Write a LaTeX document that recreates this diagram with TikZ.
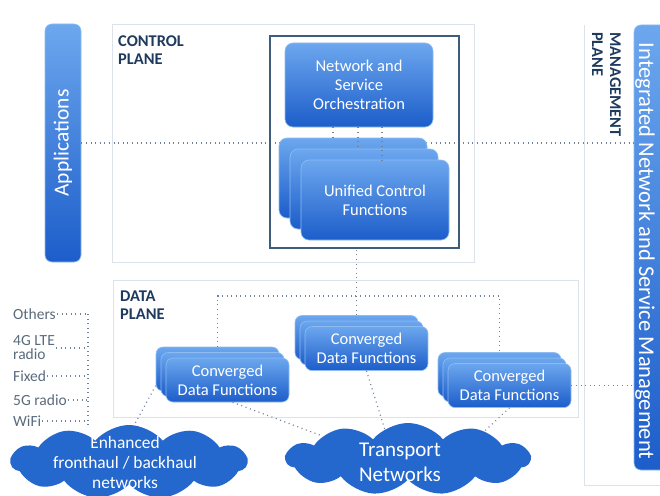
\documentclass[tikz,border=0pt]{standalone}
\usepackage{fontspec}
\setmainfont{Carlito}
\usetikzlibrary{shapes.symbols}

\definecolor{boxtop}{HTML}{6CA7EE}
\definecolor{boxbot}{HTML}{1C5DCA}
\definecolor{boxedge}{HTML}{8EBCF2}
\definecolor{cloudblue}{HTML}{2468CE}
\definecolor{planeline}{HTML}{DCE2EA}
\definecolor{framecol}{HTML}{3E5C7C}
\definecolor{navy}{HTML}{1F3A5F}
\definecolor{dotcol}{HTML}{6F8296}
\definecolor{listcol}{HTML}{5B6B7E}

\tikzset{
  bluebox/.style={rounded corners=8pt, top color=boxtop, bottom color=boxbot,
    draw=boxedge, line width=.6pt, text=white, align=center,
    font=\fontsize{16.5}{19}\selectfont, inner sep=0pt},
  plane/.style={draw=planeline, line width=.8pt},
  planelabel/.style={text=navy, font=\bfseries\fontsize{16.4}{18}\selectfont,
    align=left, inner sep=0pt},
  link/.style={draw=dotcol, line width=1.2pt, dash pattern=on 1pt off 3.6pt},
  netcloud/.style={cloud, cloud puffs=11, cloud puff arc=100, fill=cloudblue,
    draw=none, inner sep=0pt},
  cloudtext/.style={text=white, align=center, inner sep=0pt},
  access/.style={text=listcol, anchor=west, inner sep=1pt, align=left,
    font=\fontsize{15.5}{14}\selectfont},
}

\begin{document}
\begin{tikzpicture}[x=1pt,y=-1pt]
	\useasboundingbox (0,0) rectangle (660,495);
	\fill[white] (0,0) rectangle (660,495);
	%=========== planes ===========================
	\draw[plane] (112,24) rectangle (474,262);
	\draw[plane] (113,280) rectangle (578,417);
	\draw[plane] (584,25) -- (584,485) -- (662,485);
	\node[planelabel, anchor=north west] (ctrllbl) at (118,36) {CONTROL\\PLANE};
	\node[planelabel, anchor=north west] (datalbl) at (120,291) {DATA\\PLANE};
	\node[planelabel, anchor=north west, rotate=-90] (mgmtlbl) at (621,32) {MANAGEMENT\\PLANE};
	%=========== side bars ===========================
	\node[bluebox, rounded corners=7pt, minimum width=36, minimum height=238] (apps) at (63,143) {};
	\node[rotate=90, text=white, font=\fontsize{21.5}{24}\selectfont] (appstxt) at (apps.center) {Applications};
	\node[bluebox, rounded corners=7pt, minimum width=34, minimum height=445] (integ) at (651,247.5) {};
	\node[rotate=-90, text=white, font=\fontsize{22.5}{24}\selectfont] (integtxt) at (645,251) {Integrated Network and Service Management};
	\draw[link] (apps.east) -- (apps.east -| integ.west);
	%=========== control plane ===========================
	\node[draw=framecol, line width=1.5pt, minimum width=189, minimum height=212] (orchframe) at (364.5,142) {};
	\node[bluebox, minimum width=148, minimum height=84] (orch) at (359,85) {Network and\\Service\\Orchestration};
	\foreach \i/\d in {1/-22, 2/-11}
		\node[bluebox, minimum width=148, minimum height=80] (ucf\i) at (375+\d,200+\d) {};
	\node[bluebox, minimum width=148, minimum height=80] (ucf) at (375,200) {Unified Control\\Functions};
	\foreach \l/\a/\b in {ucf1/-26/-20, ucf2/-1/-6, ucf/23/7}
		\draw[link] ([xshift=\a]orch.south) -- ([xshift=\b]\l.north);
	%=========== data plane ===========================
	\foreach \n/\x/\y in {cdfa/227.5/380, cdfb/366.5/348.5, cdfc/509.5/385.5}{
		\node[bluebox, rounded corners=7pt, minimum width=123, minimum height=44] (\n1) at (\x-10,\y-11) {};
		\node[bluebox, rounded corners=7pt, minimum width=123, minimum height=44] (\n2) at (\x-5,\y-5.5) {};
		\node[bluebox, rounded corners=7pt, minimum width=123, minimum height=44] (\n) at (\x,\y) {Converged\\Data Functions};
	}
	\coordinate (bus) at (0,296);
	\draw[link] (cdfb1.north) -- (cdfb1.north |- orchframe.south);
	\draw[link] (cdfa1.north) -- (cdfa1.north |- bus) -- (cdfc1.north |- bus) -- (cdfc1.north);
	\draw[link] (cdfc.east) -- (cdfc.east -| integ.west);
	%=========== networks ===========================
	\node[netcloud, minimum width=236, minimum height=74, aspect=3.3] (fronthaul) at (129,462) {};
	\node[cloudtext, font=\fontsize{17.4}{20}\selectfont] (fronthaultxt) at (125,463) {Enhanced\\fronthaul / backhaul\\networks};
	\node[netcloud, minimum width=244, minimum height=72, aspect=3.4] (transport) at (408,459) {};
	\node[cloudtext, font=\fontsize{21}{25}\selectfont] (transporttxt) at (400,462) {Transport\\Networks};
	\draw[link] (cdfa.-77) -- (transport.165);
	\draw[link] (cdfb.south) -- (transport.128);
	\draw[link] (cdfc.south) -- (transport.20);
	\draw[link] (cdfa1.-165) -- (fronthaul.82);
	%=========== access list, from top to bottom ===========================
	\node[access] (others) at (12,314) {Others};
	\node[access] (lte) at (12,348) {4G LTE\\radio};
	\node[access] (fixed) at (12,376) {Fixed};
	\node[access] (fiveg) at (12,400) {5G radio};
	\node[access] (wifi) at (12,421) {WiFi};
	\coordinate (rail) at (88,314);
	\foreach \s in {others, lte, fixed, fiveg, wifi}
		\draw[link] (\s.east) -- (\s.east -| rail);
	\draw[link] (rail) -- (rail |- fronthaul.north);
\end{tikzpicture}
\end{document}
